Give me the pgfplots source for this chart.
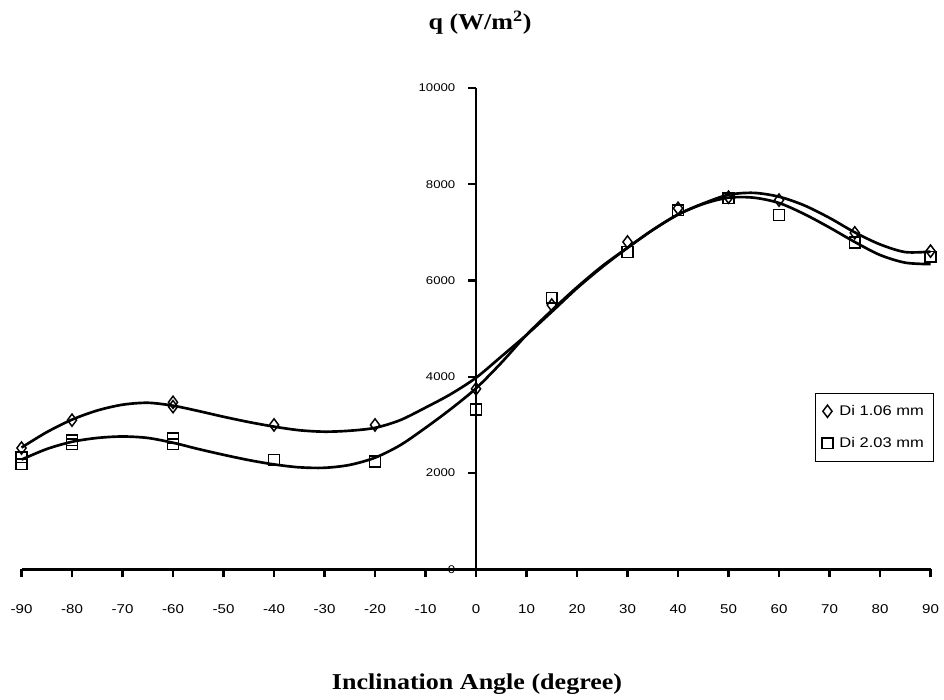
\documentclass[border=0pt]{standalone}
\usepackage{pgfplots}
\pgfplotsset{compat=1.18}
\usepackage{fontspec}
\setmainfont{Liberation Sans}[FakeStretch=1.18]
\newfontfamily\titleserif{Liberation Serif}[FakeStretch=1.15]

% heat flux, tube Di 1.06 mm
\pgfplotstableread{
ang q
-90 2520
-80 3100
-60 3470
-60 3380
-40 3000
-20 3000
0 3750
15 5490
30 6800
40 7500
50 7730
60 7670
75 6990
90 6610
}\smalltube

% heat flux, tube Di 2.03 mm
\pgfplotstableread{
ang q
-90 2330
-90 2180
-80 2680
-80 2600
-60 2720
-60 2600
-40 2280
-20 2240
0 3320
15 5640
30 6590
40 7460
50 7710
60 7360
75 6790
90 6490
}\largetube

% trend line, Di 1.06 mm
\pgfplotstableread{
ang q
-90 2530
-85 2850
-80 3110
-75 3300
-70 3420
-65 3460
-60 3400
-55 3290
-50 3170
-45 3060
-40 2965
-35 2890
-30 2860
-25 2880
-20 2940
-15 3100
-10 3360
-5 3640
0 3980
5 4420
10 4870
15 5350
20 5840
25 6280
30 6680
35 7050
40 7370
45 7600
50 7780
55 7820
60 7740
65 7560
70 7300
75 7000
80 6750
85 6590
90 6600
}\smallfit

% trend line, Di 2.03 mm
\pgfplotstableread{
ang q
-90 2280
-85 2500
-80 2650
-75 2730
-70 2760
-65 2730
-60 2630
-55 2500
-50 2380
-45 2270
-40 2180
-35 2120
-30 2110
-25 2170
-20 2320
-15 2580
-10 2940
-5 3330
0 3760
5 4290
10 4870
15 5380
20 5860
25 6300
30 6680
35 7050
40 7370
45 7590
50 7720
55 7720
60 7610
65 7380
70 7100
75 6800
80 6530
85 6370
90 6340
}\largefit

\begin{document}
\begin{tikzpicture}
\begin{axis}[
  scale only axis,
  width=682.5pt, height=361.5pt,
  xmin=-90, xmax=90, ymin=0, ymax=10000,
  axis lines=middle,
  axis line style={-, line width=2.2pt},
  xtick={-90,-80,...,90},
  ytick={0,2000,...,10000},
  tick align=outside,
  major tick length=6pt,
  tick style={line width=1.8pt, black},
  hide obscured x ticks=false,
  hide obscured y ticks=false,
  /pgf/number format/assume math mode=true,
  /pgf/number format/1000 sep={},
  scaled y ticks=false,
  xticklabel={\pgfmathprintnumber{\tick}},
  yticklabel={\pgfmathprintnumber{\tick}},
  xticklabel style={font=\fontsize{9.6}{11}\selectfont},
  yticklabel style={font=\fontsize{8.4}{10}\selectfont},
  xticklabel shift=17pt,
  yticklabel shift=6pt,
  clip=false,
  legend style={at={(axis cs:67.1,3672)}, anchor=north west,
    draw=black, line width=0.9pt, font=\fontsize{10.5}{12}\selectfont,
    inner xsep=5pt, inner ysep=7pt, row sep=11pt,
    /tikz/every odd column/.append style={column sep=3pt}},
  legend cell align=left,
  legend image code/.code={
    \draw[mark repeat=2,mark phase=2] plot coordinates {(0cm,0cm)(0.14cm,0cm)(0.28cm,0cm)};},
]
\addplot[black, line width=2pt, smooth, tension=0.5, forget plot] table[x=ang, y=q] {\smallfit};
\addplot[black, line width=2pt, smooth, tension=0.5, forget plot] table[x=ang, y=q] {\largefit};

\addplot[only marks, mark=diamond, mark size=4.6pt,
  mark options={black, line width=1.1pt, fill=none}] table[x=ang, y=q] {\smalltube};
\addlegendentry{Di 1.06 mm}
\addplot[only marks, mark=square, mark size=4pt,
  mark options={black, line width=1.1pt, fill=none}] table[x=ang, y=q] {\largetube};
\addlegendentry{Di 2.03 mm}

\node[font=\titleserif\bfseries\fontsize{17}{20}\selectfont] at (axis cs:0.8,11349) {q (W/m\textsuperscript{2})};
\node[anchor=base, font=\titleserif\bfseries\fontsize{17}{20}\selectfont] at (axis cs:0.2,-2490) {Inclination Angle (degree)};

\coordinate (bl) at (axis cs:-94.26,-2697);
\coordinate (tr) at (axis cs:92.67,11826);
\end{axis}
\pgfresetboundingbox
\path (bl) rectangle (tr);
\end{tikzpicture}
\end{document}
